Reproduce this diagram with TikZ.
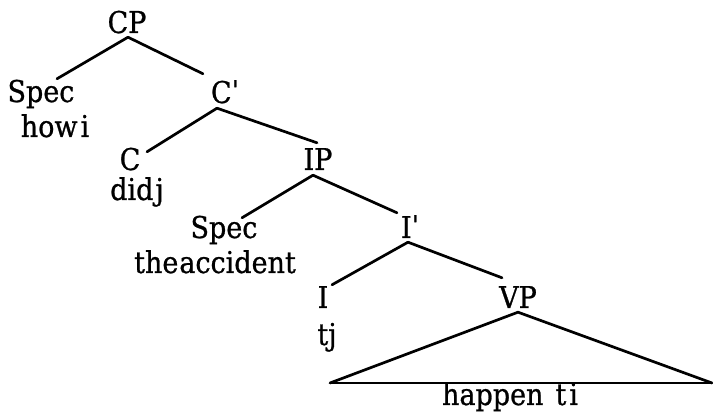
\documentclass[tikz,border=0pt]{standalone}
\usepackage{fontspec}
\setmainfont{DejaVu Serif Condensed}[FakeBold=0.8]
\usetikzlibrary{calc}
\begin{document}
\begin{tikzpicture}[x=1pt,y=-1pt,
  lab/.style={anchor=base,inner sep=1pt,text height=21pt,text depth=5pt,font=\fontsize{30}{32}\selectfont},
  edge/.style={line width=2.7pt,line cap=round}]
\useasboundingbox (0,0) rectangle (713,419);
% nodes
\node[lab] (cp) at (127,33) {CP};
\node[lab] (spec1) at (41,102) {Spec};
\node[lab] (how) at (55,137) {how\kern3pt i};
\node[lab] (cprime) at (225,103) {Cˈ};
\node[lab] (c) at (130,170) {C};
\node[lab] (did) at (137,200) {did\kern2pt j};
\node[lab] (ip) at (318,170) {IP};
\node[lab] (spec2) at (224,238) {Spec};
\node[lab] (acc) at (215,273) {the\kern1pt accident};
\node[lab] (iprime) at (410,238) {Iˈ};
\node[lab] (i) at (323,308) {I};
\node[lab] (tj) at (327,345) {tj};
\node[lab] (vp) at (518,308) {VP};
\node[lab] (hap) at (510,405) {happen\hspace{12pt}t\kern3pt i};
% edges
\draw[edge] ($(cp.south)+(1,-2)$) -- ($(spec1.north)+(16,-1)$);
\draw[edge] ($(cp.south)+(1,-2)$) -- ($(cprime.north)+(-22,-7)$);
\draw[edge] ($(cprime.south)+(-8,-1)$) -- ($(c.north)+(17,4)$);
\draw[edge] ($(cprime.south)+(-8,-1)$) -- ($(ip.north)+(-1,-5)$);
\draw[edge] ($(ip.south)+(-5,-1)$) -- ($(spec2.north)+(18,2)$);
\draw[edge] ($(ip.south)+(-5,-1)$) -- ($(iprime.north)+(-13,-3)$);
\draw[edge] ($(iprime.south)+(-2,-2)$) -- ($(i.north)+(9,-1)$);
\draw[edge] ($(iprime.south)+(-2,-2)$) -- ($(vp.north)+(-16,-8)$);
% triangle
\coordinate (tl) at (330,383);
\coordinate (tr) at (712,383);
\draw[edge] (tl) -- ($(vp.south)+(0,-2)$) -- (tr);
\draw[line width=2pt] (tl) -- (tr);
\end{tikzpicture}
\end{document}
